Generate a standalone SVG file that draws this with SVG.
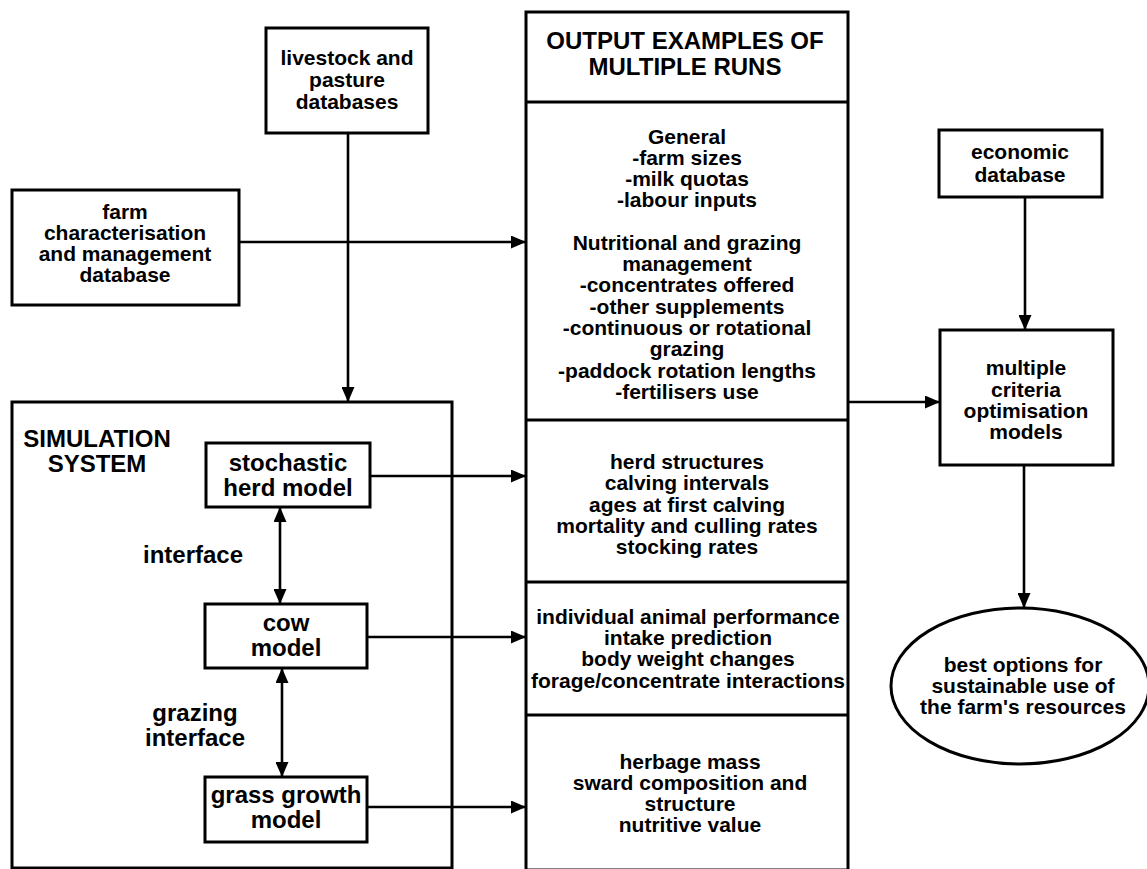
<svg xmlns="http://www.w3.org/2000/svg" width="1147" height="869" viewBox="0 0 1147 869">
<style>
.box{fill:none;stroke:#000;stroke-width:3}
.ln{fill:none;stroke:#000;stroke-width:2.6}
text{font-family:"Liberation Sans",Arial,sans-serif;font-weight:bold;fill:#000;text-anchor:middle}
.t21{font-size:21px}
.t24{font-size:24px}
</style>
<defs>
<marker id="ah" viewBox="0 0 15 13" refX="15" refY="6.5" markerWidth="15" markerHeight="13" markerUnits="userSpaceOnUse" orient="auto-start-reverse">
<path d="M0,0 L15,6.5 L0,13 Z" fill="#000"/>
</marker>
</defs>
<rect width="1147" height="869" fill="#fff"/>

<g id="livestock">
<rect class="box" x="266" y="28" width="162" height="105"/>
<text class="t21" x="347" y="65">livestock and</text>
<text class="t21" x="347" y="87">pasture</text>
<text class="t21" x="347" y="109">databases</text>
</g>

<g id="farm">
<rect class="box" x="12" y="190" width="227" height="115"/>
<text class="t21" x="125" y="219">farm</text>
<text class="t21" x="125" y="240">characterisation</text>
<text class="t21" x="125" y="261">and management</text>
<text class="t21" x="125" y="282">database</text>
</g>

<g id="output">
<rect class="box" x="526" y="12" width="322" height="858"/>
<line class="box" x1="526" y1="102" x2="848" y2="102"/>
<line class="box" x1="526" y1="420" x2="848" y2="420"/>
<line class="box" x1="526" y1="582" x2="848" y2="582"/>
<line class="box" x1="526" y1="715" x2="848" y2="715"/>
<text class="t24" x="685" y="49">OUTPUT EXAMPLES OF</text>
<text class="t24" x="685" y="75">MULTIPLE RUNS</text>
<text class="t21" x="687" y="144">General</text>
<text class="t21" x="687" y="165">-farm sizes</text>
<text class="t21" x="687" y="186">-milk quotas</text>
<text class="t21" x="687" y="207">-labour inputs</text>
<text class="t21" x="687" y="250">Nutritional and grazing</text>
<text class="t21" x="687" y="271">management</text>
<text class="t21" x="687" y="292">-concentrates offered</text>
<text class="t21" x="687" y="314">-other supplements</text>
<text class="t21" x="687" y="335">-continuous or rotational</text>
<text class="t21" x="687" y="356">grazing</text>
<text class="t21" x="687" y="378">-paddock rotation lengths</text>
<text class="t21" x="687" y="399">-fertilisers use</text>
<text class="t21" x="687" y="469">herd structures</text>
<text class="t21" x="687" y="490">calving intervals</text>
<text class="t21" x="687" y="512">ages at first calving</text>
<text class="t21" x="687" y="533">mortality and culling rates</text>
<text class="t21" x="687" y="554">stocking rates</text>
<text class="t21" x="688" y="624">individual animal performance</text>
<text class="t21" x="688" y="645">intake prediction</text>
<text class="t21" x="688" y="666">body weight changes</text>
<text class="t21" x="688" y="688">forage/concentrate interactions</text>
<text class="t21" x="690" y="769">herbage mass</text>
<text class="t21" x="690" y="790">sward composition and</text>
<text class="t21" x="690" y="811">structure</text>
<text class="t21" x="690" y="832">nutritive value</text>
</g>

<g id="economic">
<rect class="box" x="939" y="130" width="163" height="67"/>
<text class="t21" x="1020" y="159">economic</text>
<text class="t21" x="1020" y="182">database</text>
</g>

<g id="multiple">
<rect class="box" x="940" y="330" width="173" height="135"/>
<text class="t21" x="1026" y="375">multiple</text>
<text class="t21" x="1026" y="397">criteria</text>
<text class="t21" x="1026" y="418">optimisation</text>
<text class="t21" x="1026" y="439">models</text>
</g>

<g id="best">
<ellipse class="box" cx="1020" cy="686" rx="129" ry="78"/>
<text class="t21" x="1023" y="672">best options for</text>
<text class="t21" x="1023" y="693">sustainable use of</text>
<text class="t21" x="1023" y="714">the farm's resources</text>
</g>

<g id="simulation">
<rect class="box" x="12" y="402" width="440" height="466"/>
<text class="t24" x="97" y="447">SIMULATION</text>
<text class="t24" x="97" y="472">SYSTEM</text>
<text class="t24" x="193" y="563">interface</text>
<text class="t24" x="195" y="721">grazing</text>
<text class="t24" x="195" y="746">interface</text>
</g>

<g id="herd">
<rect class="box" x="206" y="443" width="164" height="64"/>
<text class="t24" x="288" y="471">stochastic</text>
<text class="t24" x="288" y="496">herd model</text>
</g>

<g id="cow">
<rect class="box" x="205" y="604" width="162" height="64"/>
<text class="t24" x="286" y="631">cow</text>
<text class="t24" x="286" y="656">model</text>
</g>

<g id="grass">
<rect class="box" x="205" y="777" width="162" height="65"/>
<text class="t24" x="286" y="803">grass growth</text>
<text class="t24" x="286" y="828">model</text>
</g>

<g id="connectors">
<line class="ln" x1="239" y1="242" x2="526" y2="242" marker-end="url(#ah)"/>
<line class="ln" x1="348" y1="133" x2="348" y2="402" marker-end="url(#ah)"/>
<line class="ln" x1="370" y1="476" x2="526" y2="476" marker-end="url(#ah)"/>
<line class="ln" x1="367" y1="637" x2="526" y2="637" marker-end="url(#ah)"/>
<line class="ln" x1="367" y1="807" x2="526" y2="807" marker-end="url(#ah)"/>
<line class="ln" x1="280" y1="507" x2="280" y2="604" marker-start="url(#ah)" marker-end="url(#ah)"/>
<line class="ln" x1="282" y1="668" x2="282" y2="777" marker-start="url(#ah)" marker-end="url(#ah)"/>
<line class="ln" x1="848" y1="402" x2="940" y2="402" marker-end="url(#ah)"/>
<line class="ln" x1="1025" y1="197" x2="1025" y2="330" marker-end="url(#ah)"/>
<line class="ln" x1="1024" y1="465" x2="1024" y2="608" marker-end="url(#ah)"/>
</g>
</svg>
